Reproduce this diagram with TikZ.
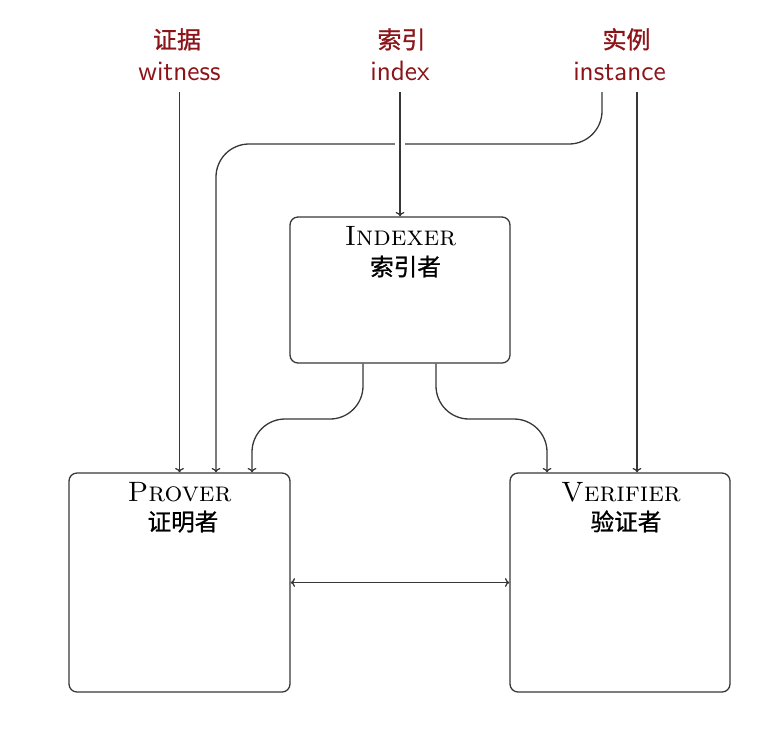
\documentclass[tikz,border=0pt]{standalone}
\usepackage{fontspec}
\newfontfamily\cjk[FakeBold=1]{Noto Sans CJK SC}
\newfontfamily\cjkb[FakeBold=1]{Noto Sans CJK SC}
\usetikzlibrary{arrows.meta,calc}
\definecolor{lblred}{RGB}{140,20,25}
\definecolor{ln}{RGB}{55,55,55}
\begin{document}
\begin{tikzpicture}[x=0.5pt,y=-0.5pt,
  box/.style={draw=ln, line width=0.65pt, rounded corners=4pt, inner sep=0pt},
  conn/.style={draw=ln, line width=0.65pt, -{To[length=2.2pt,width=4.4pt]}},
  lbl/.style={text=lblred, font=\sffamily\fontsize{14}{16}\selectfont, anchor=base, inner sep=0pt},
  lblzh/.style={text=lblred, font=\cjkb\fontsize{12}{14}\selectfont, anchor=base, inner sep=0pt},
  boxtitle/.style={font=\fontsize{14}{16}\selectfont\scshape, anchor=base, inner sep=0pt},
  zh/.style={font=\cjk\fontsize{11.8}{14}\selectfont, anchor=base, inner sep=0pt}]
\useasboundingbox (0,0) rectangle (774,729);

% boxes
\node[box, minimum width=110pt, minimum height=73pt] (idx) at (400,290) {};
\node[box, minimum width=110.5pt, minimum height=109.5pt] (prv) at (179.5,582.5) {};
\node[box, minimum width=110pt, minimum height=109.5pt] (vrf) at (620,582.5) {};

% box texts
\node[boxtitle] (idxt) at (400.5,245.5) {Indexer};
\node[zh] (idxz) at (405.5,275.5) {索引者};
\node[boxtitle] (prvt) at (179.5,501.5) {Prover};
\node[zh] (prvz) at (183,530.5) {证明者};
\node[boxtitle] (vrft) at (621,501.5) {Verifier};
\node[zh] (vrfz) at (626,530.5) {验证者};

% top labels
\node[lblzh] (witz) at (177,48.5) {证据};
\node[lbl] (wit) at (179.5,80.5) {witness};
\node[lblzh] (idlz) at (401.5,48.5) {索引};
\node[lbl] (idl) at (400,80.5) {index};
\node[lblzh] (insz) at (626.5,48.5) {实例};
\node[lbl] (ins) at (619.5,80.5) {instance};

% connectors
\draw[conn] ([yshift=-5.75pt]wit.base) coordinate (w0) -- (w0 |- prv.north);
\coordinate (bend) at (216,144);
\draw[conn, rounded corners=16.5pt] ([xshift=-8.75pt,yshift=-5.75pt]ins.base) |- (bend) -- (bend |- prv.north);
\draw[conn] ([xshift=8.75pt,yshift=-5.75pt]ins.base) coordinate (i1) -- (i1 |- vrf.north);
\draw[white, line width=5pt] (400,137) -- (400,151);
\draw[conn] ([yshift=-5.75pt]idl.base) -- (idx.north);

\coordinate (m1) at (252,419);
\coordinate (m2) at (547,419);
\draw[conn, rounded corners=16.5pt] ([xshift=-18.5pt]idx.south) |- (m1) -- (m1 |- prv.north);
\draw[conn, rounded corners=16.5pt] ([xshift=18pt]idx.south) |- (m2) -- (m2 |- vrf.north);

\draw[conn, {To[length=2.2pt,width=4.4pt]}-{To[length=2.2pt,width=4.4pt]}] (prv.east) -- (vrf.west);
\end{tikzpicture}
\end{document}
